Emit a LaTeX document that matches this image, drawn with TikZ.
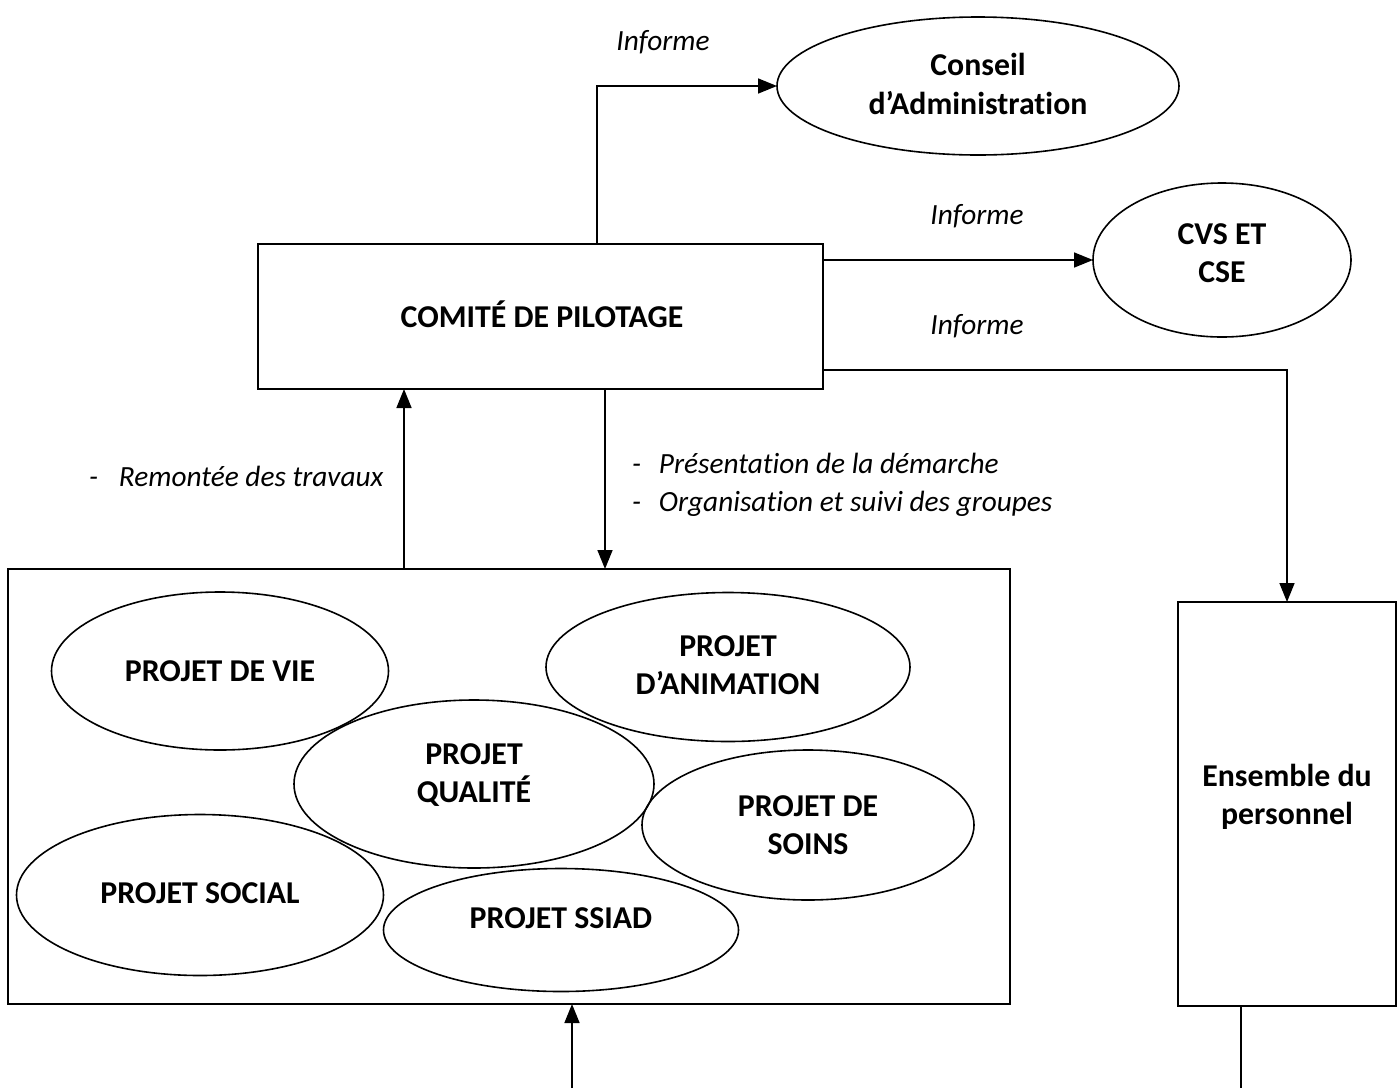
\documentclass[tikz,border=0pt]{standalone}
\usepackage{fontspec}
\setmainfont{Carlito}[Ligatures=NoCommon]
\usetikzlibrary{shapes.geometric,arrows.meta,calc}
\begin{document}
\begin{tikzpicture}[x=1pt,y=-1pt,
  every node/.style={inner sep=0pt,outer sep=0pt},
  ln/.style={line width=1.6pt},
  arr/.style={ln,-{Triangle[length=19pt,width=15pt]}},
  bx/.style={draw,ln,rectangle},
  el/.style={draw,ln,ellipse},
  btxt/.style={font=\fontsize{31.8}{38.5}\selectfont\bfseries,align=center},
  lbl/.style={font=\fontsize{29.3}{38}\selectfont\itshape}
]
\useasboundingbox (0,0) rectangle (1398,1088);
% main boxes
\node[bx,minimum width=565pt,minimum height=145pt] (comite) at (540.5,316.5) {};
\node[btxt] at (542,314) {COMITÉ DE PILOTAGE};
\node[el,minimum width=402pt,minimum height=138pt] (conseil) at (978,86) {};
\node[btxt] at (978,84) {Conseil\\d’Administration};
\node[el,minimum width=258pt,minimum height=154pt] (cvs) at (1222,260) {};
\node[btxt] at (1222,253) {CVS ET\\CSE};
\node[bx,minimum width=218pt,minimum height=404pt] (ens) at (1287,804) {};
\node[btxt] at (1287,797) {Ensemble du\\personnel};
\node[bx,minimum width=1002pt,minimum height=435pt] (pbox) at (509,786.5) {};
% project ellipses
\node[el,minimum width=337pt,minimum height=158pt] (vie) at (220,671) {};
\node[btxt] at (vie.center) {PROJET DE VIE};
\node[el,minimum width=364pt,minimum height=149pt] (anim) at (728,667) {};
\node[btxt] at ([yshift=2pt]anim.center) {PROJET\\D’ANIMATION};
\node[el,minimum width=360pt,minimum height=168pt] (qual) at (474,784) {};
\node[btxt] at ([yshift=9pt]qual.center) {PROJET\\QUALITÉ};
\node[el,minimum width=332pt,minimum height=150pt] (soins) at (808,825) {};
\node[btxt] at (soins.center) {PROJET DE\\SOINS};
\node[el,minimum width=367pt,minimum height=161pt] (social) at (200,895) {};
\node[btxt] at ([yshift=2pt]social.center) {PROJET SOCIAL};
\node[el,minimum width=355pt,minimum height=123pt] (ssiad) at (561,930) {};
\node[btxt] at ([yshift=12pt]ssiad.center) {PROJET SSIAD};
% labels
\node[lbl] (i1) at (663,42) {Informe};
\node[lbl] (i2) at (977,216) {Informe};
\node[lbl] (i3) at (977,326) {Informe};
\node[lbl,anchor=west] (rem) at (89,476) {-\hspace{21pt}Remontée des travaux};
\node[lbl,anchor=west,align=left] (pres) at (632,485) {-\hspace{18pt}Présentation de la démarche\\-\hspace{18pt}Organisation et suivi des groupes};
% connectors
\coordinate (xa) at (597,0);
\coordinate (xup) at (404,0);
\coordinate (xdn) at (605,0);
\coordinate (b1) at (572,1088);
\coordinate (b2) at (1241,1088);
\draw[arr] (comite.north -| xa) |- (conseil.west);
\draw[arr] (comite.east |- cvs.west) -- (cvs.west);
\draw[arr] ([yshift=19pt]comite.south east) -| (ens.north);
\draw[arr] (pbox.north -| xup) -- (comite.south -| xup);
\draw[arr] (comite.south -| xdn) -- (pbox.north -| xdn);
\draw[arr] (b1) -- (pbox.south -| b1);
\draw[ln] (ens.south -| b2) -- (b2);
\end{tikzpicture}
\end{document}
